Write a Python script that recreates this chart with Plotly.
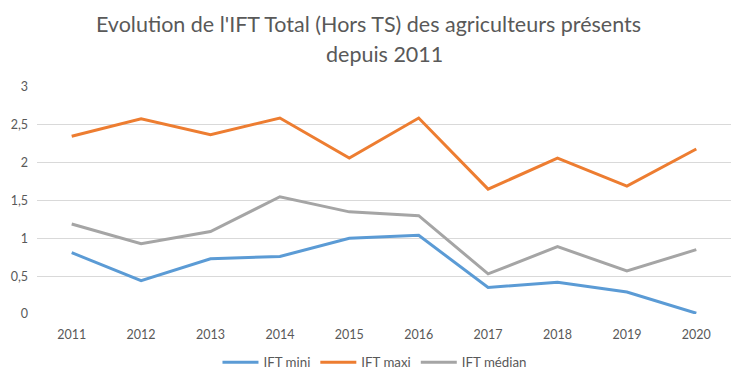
import plotly.graph_objects as go

years = ["2011", "2012", "2013", "2014", "2015", "2016", "2017", "2018", "2019", "2020"]
ift_mini = [0.81, 0.44, 0.73, 0.76, 1.00, 1.04, 0.35, 0.42, 0.29, 0.01]
ift_maxi = [2.35, 2.58, 2.37, 2.59, 2.06, 2.59, 1.65, 2.06, 1.69, 2.18]
ift_median = [1.19, 0.93, 1.09, 1.55, 1.35, 1.30, 0.53, 0.89, 0.57, 0.85]
y_tickvals = [0, 0.5, 1, 1.5, 2, 2.5, 3]
y_ticktext = ["0", "0,5", "1", "1,5", "2", "2,5", "3"]
title_line1 = "Evolution de l'IFT Total (Hors TS) des agriculteurs présents"
title_line2 = "depuis 2011"

fig = go.Figure()
fig.add_trace(go.Scatter(x=years, y=ift_mini, mode="lines", name="IFT mini",
                         line=dict(color="#5B9BD5", width=3)))
fig.add_trace(go.Scatter(x=years, y=ift_maxi, mode="lines", name="IFT maxi",
                         line=dict(color="#ED7D31", width=3)))
fig.add_trace(go.Scatter(x=years, y=ift_median, mode="lines", name="IFT médian",
                         line=dict(color="#A5A5A5", width=3)))

fig.update_layout(
    width=737, height=382,
    paper_bgcolor="white", plot_bgcolor="white",
    font=dict(family="Lato, Open Sans, sans-serif", color="#595959", size=12.5),
    title=dict(text=title_line1, x=0.5, xanchor="center",
               yref="container", y=1 - 24 / 382, yanchor="middle",
               font=dict(size=21.5, color="#595959")),
    annotations=[dict(text=title_line2, xref="paper", yref="paper", x=0.5, y=1 + (87 - 54) / 227,
                      xanchor="center", yanchor="middle", showarrow=False,
                      font=dict(size=21.5, color="#595959"))],
    margin=dict(l=37, r=6, t=87, b=68, autoexpand=False),
    showlegend=True,
    legend=dict(orientation="h", x=0.487, xanchor="center", y=-(347 - 314) / 227, yanchor="top",
                font=dict(size=13.3, color="#595959"), itemwidth=36),
)
fig.update_xaxes(type="category", range=[-0.5, 9.5], showgrid=False, showline=False, zeroline=False,
                 automargin=False, ticks="", ticklabelstandoff=11,
                 tickfont=dict(size=12.5, color="#595959"))
fig.update_yaxes(range=[0, 3], tickvals=y_tickvals, ticktext=y_ticktext, automargin=False,
                 showgrid=True, gridcolor="#D9D9D9", gridwidth=1, zeroline=False,
                 showline=False, ticks="", ticklabelstandoff=8,
                 tickfont=dict(size=12.5, color="#595959"))

fig.write_html("out.html", config={"displayModeBar": False},
               post_script="document.body.style.margin='0';document.body.style.overflow='hidden';")
